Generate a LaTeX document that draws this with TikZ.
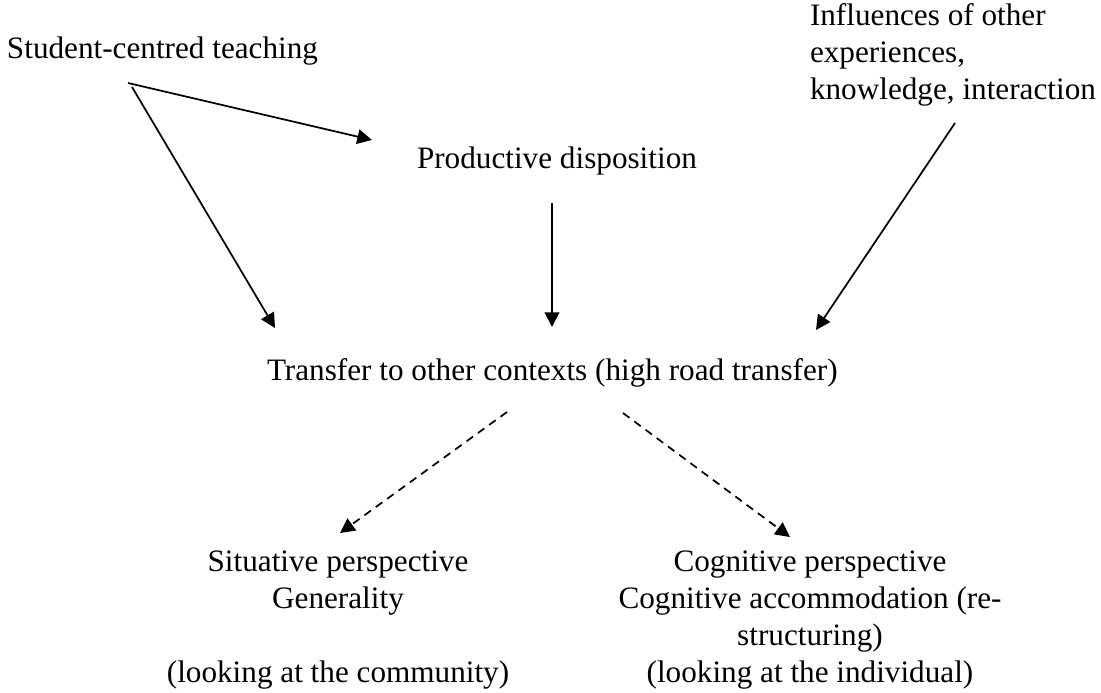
\documentclass[tikz,border=0pt]{standalone}
\usepackage{fontspec}
\setmainfont{Liberation Serif}
\usetikzlibrary{arrows.meta,calc}
\begin{document}
\begin{tikzpicture}[x=0.75pt,y=-0.75pt,
  lbl/.style={inner sep=0pt,outer sep=0pt,font=\fontsize{23.4}{27.6}\selectfont},
  conn/.style={line width=1.3pt,-{Triangle[length=11pt,width=11pt]}},
  dconn/.style={conn,dash pattern=on 6pt off 4.5pt}]
\useasboundingbox (0,0) rectangle (1101,693);
\node[lbl,anchor=base west] (stu) at (7,58) {Student-centred teaching};
\node[lbl,anchor=base west,align=left] (inf) at (810,99) {Influences of other\\experiences,\\knowledge, interaction};
\node[lbl,anchor=base west] (prod) at (417,168) {Productive disposition};
\node[lbl,anchor=base west] (trans) at (267,380) {Transfer to other contexts (high road transfer)};
\node[lbl,anchor=base,align=center] (sit) at (338,682) {Situative perspective\\Generality\\ \\(looking at the community)};
\node[lbl,anchor=base,align=center] (cog) at (810,682) {Cognitive perspective\\Cognitive accommodation (re-\\structuring)\\(looking at the individual)};
\draw[conn] ($(stu.base west)+(121,25)$) -- ($(prod.base west)+(-45,-28)$);
\draw[conn] ($(stu.base west)+(125,29)$) -- ($(trans.base west)+(8,-52)$);
\draw[conn] ($(prod.base west)+(135,35)$) -- ($(trans.base west)+(285,-53)$);
\draw[conn] ($(inf.base west)+(145,24)$) -- ($(trans.base west)+(549,-50)$);
\draw[dconn] ($(trans.base west)+(240,32)$) -- ($(sit.base)+(2,-149)$);
\draw[dconn] ($(trans.base west)+(356,33)$) -- ($(cog.base)+(-20,-145)$);
\end{tikzpicture}
\end{document}
